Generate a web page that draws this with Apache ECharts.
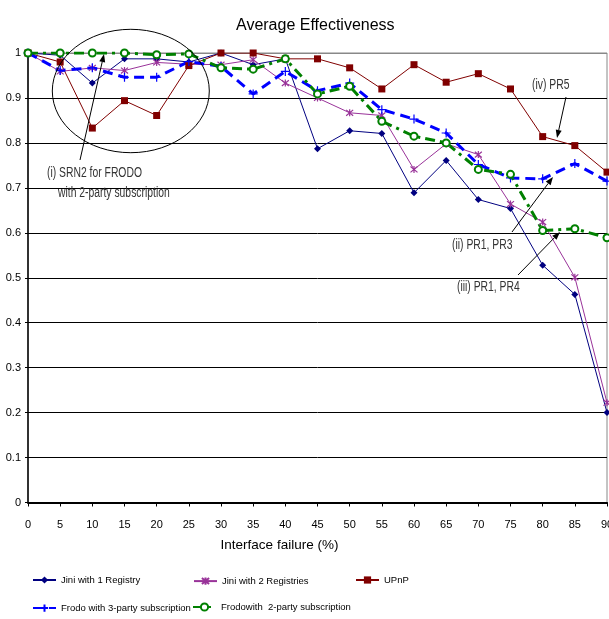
<!DOCTYPE html>
<html>
<head>
<meta charset="utf-8">
<script src="https://cdn.jsdelivr.net/npm/echarts@6/dist/echarts.min.js"></script>
<style>html,body{margin:0;padding:0;background:#fff}#c{width:609px;height:619px}</style>
</head>
<body>
<div id="c"></div>
<script>
const failures = ['0','5','10','15','20','25','30','35','40','45','50','55','60','65','70','75','80','85','90'];
const jini1 = [1.0,0.995,0.933,0.987,0.987,0.98,1.0,0.974,0.987,0.787,0.827,0.821,0.689,0.761,0.674,0.654,0.528,0.463,0.2];
const jini2 = [1.0,0.959,0.967,0.961,0.979,0.975,0.974,0.985,0.933,0.9,0.867,0.861,0.741,0.798,0.774,0.664,0.624,0.501,0.222];
const upnp = [1.0,0.98,0.833,0.894,0.861,0.972,1.0,1.0,0.987,0.987,0.967,0.92,0.974,0.935,0.954,0.92,0.814,0.794,0.735];
const frodo3 = [1.0,0.961,0.967,0.946,0.946,0.981,0.97,0.909,0.959,0.916,0.933,0.874,0.853,0.822,0.752,0.722,0.72,0.754,0.715];
const frodo2 = [1.0,1.0,1.0,1.0,0.996,0.998,0.967,0.964,0.987,0.909,0.926,0.848,0.815,0.8,0.741,0.73,0.605,0.609,0.589];
const seriesNames = ['Jini with 1 Registry','Jini with 2 Registries','UPnP','Frodo with 3-party subscription','Frodowith  2-party subscription'];

const FONT = '"Liberation Sans", Arial, sans-serif';
const chart = echarts.init(document.getElementById('c'));

function arrow(x1, y1, x2, y2) {
  const a = Math.atan2(y2 - y1, x2 - x1), L = 8, W = 3;
  const bx = x2 - L * Math.cos(a), by = y2 - L * Math.sin(a);
  return [
    {type:'line', shape:{x1:x1, y1:y1, x2:bx, y2:by}, style:{stroke:'#000', lineWidth:1}, z:100},
    {type:'polygon', shape:{points:[[x2,y2],[bx + W*Math.sin(a), by - W*Math.cos(a)],[bx - W*Math.sin(a), by + W*Math.cos(a)]]}, style:{fill:'#000'}, z:100}
  ];
}
function note(x, y, t) {
  return {type:'text', x:x, y:y, scaleX:0.74, z:100,
    style:{text:t, fill:'#333', font:'14px ' + FONT, textVerticalAlign:'middle'}};
}

const asterisk = 'path://M0,0L10,10M10,0L0,10M5,-1L5,11';
const plus = 'path://M5,0L5,10M0,5L10,5';

function legendAt(name, left, top) {
  return {data:[name], left:left, top:top, itemWidth:23, itemHeight:9, padding:0,
    textStyle:{fontFamily:FONT, fontSize:9.5, color:'#000'}};
}

chart.setOption({
  animation:false,
  backgroundColor:'#fff',
  title:{text:'Average Effectiveness', left:236, top:18, padding:0,
    textStyle:{fontFamily:FONT, fontSize:16, fontWeight:'normal', color:'#000'}},
  grid:{left:28, right:2, top:53, height:449.5, show:true, borderColor:'#888', borderWidth:1,
    containLabel:false, outerBoundsMode:'none'},
  legend:[
    legendAt(seriesNames[0], 32, 575),
    legendAt(seriesNames[1], 193, 575),
    legendAt(seriesNames[2], 355, 575),
    legendAt(seriesNames[3], 32, 602),
    legendAt(seriesNames[4], 192, 602)
  ],
  xAxis:{type:'category', data:failures, boundaryGap:false,
    name:'Interface failure (%)', nameLocation:'middle', nameGap:36,
    nameTextStyle:{fontFamily:FONT, fontSize:13.5, color:'#000', padding:[0,76,0,0]},
    axisLine:{lineStyle:{color:'#000', width:2}},
    axisTick:{show:true, length:4, lineStyle:{color:'#000'}},
    axisLabel:{interval:0, margin:17, fontFamily:FONT, fontSize:11, color:'#000'},
    splitLine:{show:false}},
  yAxis:{type:'value', min:0, max:1, interval:0.1,
    axisLine:{show:true, lineStyle:{color:'#000', width:1.5}},
    axisTick:{show:true, length:3, lineStyle:{color:'#000'}},
    axisLabel:{margin:7, fontFamily:FONT, fontSize:11, color:'#000'},
    splitLine:{show:true, lineStyle:{color:['#000','#000','#000','#000','#000','#000','#000','#000','#000','#000','#888'], width:1}}},
  series:[
    {name:seriesNames[0], type:'line', data:jini1, symbol:'diamond', symbolSize:7,
      lineStyle:{color:'#000080', width:1}, itemStyle:{color:'#000080'}},
    {name:seriesNames[1], type:'line', data:jini2, symbol:asterisk, symbolSize:7,
      lineStyle:{color:'#993399', width:1}, itemStyle:{color:'none', borderColor:'#993399', borderWidth:1.2}},
    {name:seriesNames[2], type:'line', data:upnp, symbol:'rect', symbolSize:7,
      lineStyle:{color:'#800000', width:1}, itemStyle:{color:'#800000'}},
    {name:seriesNames[3], type:'line', data:frodo3, symbol:plus, symbolSize:9,
      lineStyle:{color:'#0000FF', width:3, type:[10,6]}, itemStyle:{color:'none', borderColor:'#0000FF', borderWidth:1.2}},
    {name:seriesNames[4], type:'line', data:frodo2, symbol:'emptyCircle', symbolSize:7,
      lineStyle:{color:'#008000', width:3, type:[10,5,3,5]}, itemStyle:{color:'#008000', borderColor:'#008000', borderWidth:1}}
  ],
  graphic:[
    {type:'ellipse', shape:{cx:130.8, cy:91, rx:78.5, ry:61.7}, style:{fill:'none', stroke:'#000', lineWidth:1}, z:100},
    note(47, 173, '(i) SRN2 for FRODO'),
    note(58, 193, 'with 2-party subscription'),
    note(532, 85, '(iv) PR5'),
    note(452, 245, '(ii) PR1, PR3'),
    note(457, 287, '(iii) PR1, PR4'),
    ...arrow(80, 160, 104, 54),
    ...arrow(566, 97, 557, 138),
    ...arrow(512, 232, 553, 177),
    ...arrow(518, 275, 560, 232)
  ]
});
</script>
</body>
</html>
